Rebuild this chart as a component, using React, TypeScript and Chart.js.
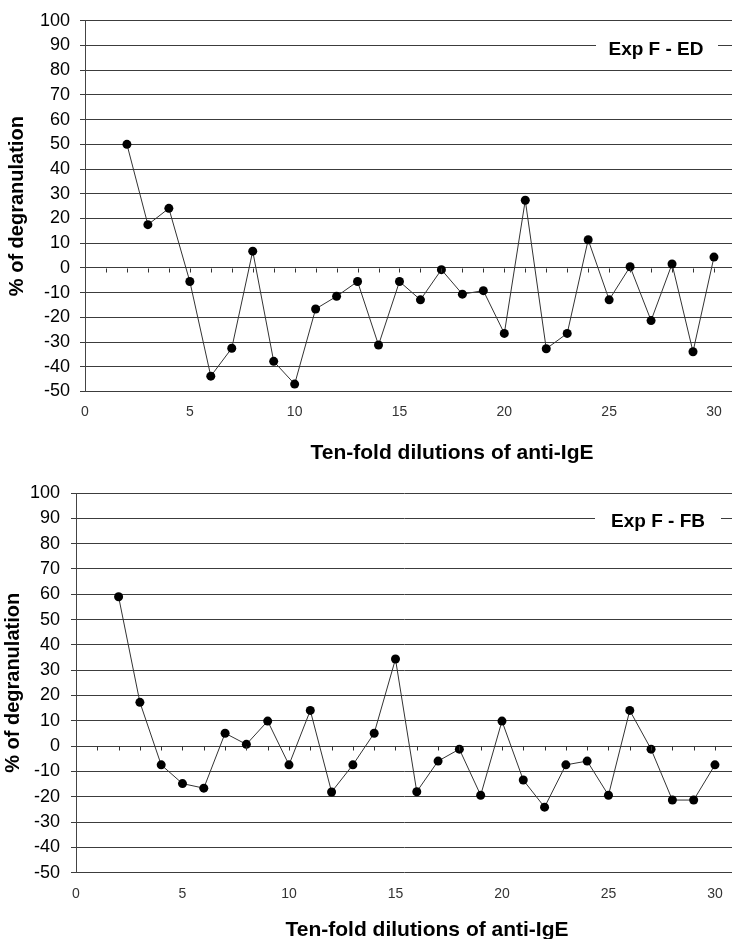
import React, { useEffect, useRef } from 'react';
import { Chart, registerables } from 'chart.js';

Chart.register(...registerables);

// ---- Data ----
const dilutions = [2, 3, 4, 5, 6, 7, 8, 9, 10, 11, 12, 13, 14, 15, 16, 17, 18, 19, 20, 21, 22, 23, 24, 25, 26, 27, 28, 29, 30];
const expFEdValues = [50, 17.5, 24.1, -5.5, -43.8, -32.5, 6.8, -37.8, -47, -16.6, -11.5, -5.5, -31.2, -5.5, -12.9, -0.7, -10.6, -9.2, -26.5, 27.4, -32.7, -26.5, 11.4, -12.9, 0.5, -21.3, 1.6, -33.9, 4.4];
const expFFbValues = [59, 17.3, -7.4, -14.8, -16.6, 5.1, 0.7, 9.9, -7.4, 14.1, -18.1, -7.4, 5.1, 34.4, -18, -5.9, -1.2, -19.4, 9.9, -13.4, -24.1, -7.4, -5.9, -19.4, 14.1, -1.2, -21.3, -21.3, -7.4];
const seriesLabels = ['Exp F - ED', 'Exp F - FB'];
const xAxisTitle = 'Ten-fold dilutions of anti-IgE';
const yAxisTitle = '% of degranulation';
const yMin = -50;
const yMax = 100;
const yStep = 10;
const xStep = 5;

const FONT = "'Liberation Sans', Arial, sans-serif";

type Layout = {
  width: number;
  height: number;
  chartLeft: number;
  chartTop: number;
  chartBottom: number;
  xMax: number;
  xLabelPad: number;
  yLabelPad: number;
  yTitlePad: number;
  xTitleX: number;
  xTitleY: number;
  legendTextX: number;
  legendTextY: number;
  legendBoxL: number;
  legendBoxR: number;
};

function DegranulationChart({ values, label, layout }: { values: number[]; label: string; layout: Layout }) {
  const ref = useRef<HTMLCanvasElement | null>(null);

  useEffect(() => {
    if (!ref.current) return;
    const L = layout;
    const overlay = {
      id: 'overlay',
      afterDraw(chart: any) {
        const ctx = chart.ctx;
        const xs = chart.scales.x;
        const ys = chart.scales.y;
        // tick marks along the zero line
        const y0 = Math.round(ys.getPixelForValue(0)) + 0.5;
        ctx.save();
        ctx.strokeStyle = '#333';
        ctx.lineWidth = 1;
        ctx.beginPath();
        for (let i = 1; i <= 30; i++) {
          const px = Math.round(xs.getPixelForValue(i)) + 0.5;
          ctx.moveTo(px, y0);
          ctx.lineTo(px, y0 + 4);
        }
        ctx.stroke();
        // legend label box
        ctx.fillStyle = '#ffffff';
        ctx.fillRect(L.legendBoxL, L.legendTextY - 11, L.legendBoxR - L.legendBoxL, 22);
        ctx.fillStyle = '#000';
        ctx.font = `bold 19px ${FONT}`;
        ctx.textAlign = 'center';
        ctx.textBaseline = 'middle';
        ctx.fillText(label, L.legendTextX, L.legendTextY);
        // x-axis title
        ctx.font = `bold 21px ${FONT}`;
        ctx.fillText(xAxisTitle, L.xTitleX, L.xTitleY);
        ctx.restore();
      },
    };

    const chart = new Chart(ref.current, {
      type: 'scatter',
      data: {
        datasets: [
          {
            label,
            data: dilutions.map((x, i) => ({ x, y: values[i] })),
            showLine: true,
            borderColor: '#333',
            borderWidth: 1,
            pointRadius: 4.5,
            pointBackgroundColor: '#000',
            pointBorderColor: '#000',
            pointBorderWidth: 0,
            clip: false,
          },
        ],
      },
      options: {
        animation: false,
        responsive: false,
        layout: { autoPadding: false, padding: { top: L.chartTop, left: 0, right: 0, bottom: 0 } },
        plugins: { legend: { display: false }, tooltip: { enabled: false } },
        scales: {
          x: {
            type: 'linear',
            min: 0,
            max: L.xMax,
            border: { display: false },
            grid: { display: false, drawTicks: true, tickLength: L.xLabelPad },
            ticks: {
              stepSize: xStep,
              includeBounds: false,
              padding: 0,
              color: '#333',
              font: { family: FONT, size: 14 },
              maxRotation: 0,
            },
            afterFit(scale: any) {
              scale.height = L.height - L.chartBottom;
              scale.paddingLeft = 0;
              scale.paddingRight = 0;
            },
          },
          y: {
            min: yMin,
            max: yMax,
            border: { display: true, color: '#444', width: 1 },
            grid: { color: '#3c3c3c', lineWidth: 1, tickLength: 5, drawTicks: true },
            ticks: {
              stepSize: yStep,
              padding: L.yLabelPad,
              color: '#000',
              font: { family: FONT, size: 18 },
            },
            title: {
              display: true,
              text: yAxisTitle,
              color: '#000',
              font: { family: FONT, size: 20, weight: 'bold' },
              padding: { top: L.yTitlePad, bottom: 0 },
            },
            afterFit(scale: any) {
              scale.width = L.chartLeft;
            },
          },
        },
      },
      plugins: [overlay],
    } as any);
    return () => chart.destroy();
  }, [values, label, layout]);

  return <canvas ref={ref} width={layout.width} height={layout.height} style={{ display: 'block', width: layout.width, height: layout.height }} />;
}

const topLayout: Layout = {
  width: 732,
  height: 465,
  chartLeft: 85,
  chartTop: 18,
  chartBottom: 391.5,
  xMax: 30.86,
  xLabelPad: 12,
  yLabelPad: 10,
  yTitlePad: 5,
  xTitleX: 452,
  xTitleY: 453,
  legendTextX: 656,
  legendTextY: 50,
  legendBoxL: 596,
  legendBoxR: 718,
};

const bottomLayout: Layout = {
  width: 732,
  height: 474,
  chartLeft: 76,
  chartTop: 28,
  chartBottom: 407.7,
  xMax: 30.8,
  xLabelPad: 13,
  yLabelPad: 11,
  yTitlePad: 1,
  xTitleX: 427,
  xTitleY: 465,
  legendTextX: 658,
  legendTextY: 57,
  legendBoxL: 595,
  legendBoxR: 721,
};

export default function App() {
  return (
    <div style={{ position: 'absolute', left: 0, top: 0, width: 732, height: 939, background: '#fff' }}>
      <DegranulationChart values={expFEdValues} label={seriesLabels[0]} layout={topLayout} />
      <DegranulationChart values={expFFbValues} label={seriesLabels[1]} layout={bottomLayout} />
    </div>
  );
}
